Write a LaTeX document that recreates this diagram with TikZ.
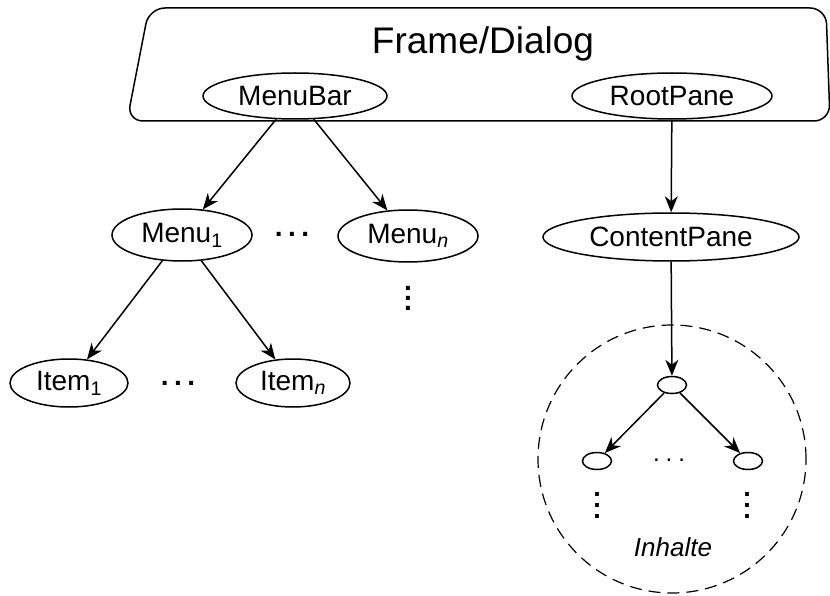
\documentclass[tikz,border=0pt]{standalone}
\usepackage{fontspec}
\setmainfont{Liberation Sans}
\usetikzlibrary{shapes.geometric,arrows.meta}
\begin{document}
\begin{tikzpicture}[x=1pt,y=-1pt,
  every node/.style={font=\fontsize{28}{30}\selectfont},
  oval/.style={draw, ellipse, line width=1.5pt, inner sep=0pt},
  tiny/.style={draw, ellipse, line width=1.5pt, inner sep=0pt, minimum width=29pt, minimum height=17pt},
  link/.style={line width=1.5pt, -{Stealth[length=16pt,width=13pt,inset=5pt]}},
  hdots/.style={inner sep=0pt, font=\fontsize{28}{30}\selectfont\bfseries},
  vdots/.style={inner sep=0pt, align=center, font=\fontsize{28}{10}\selectfont\bfseries},
  ]
\useasboundingbox (0,0) rectangle (830,596);
% window frame
\draw[line width=1.5pt, rounded corners=16pt] (149,8) -- (826,8) -- (830,121) -- (127,121) -- cycle;
\node (title) at (483,44) {\fontsize{37}{40}\selectfont Frame/Dialog};
\node[oval, minimum width=184pt, minimum height=46pt] (mb) at (295,96) {MenuBar};
\node[oval, minimum width=200pt, minimum height=46pt] (rp) at (672,96) {RootPane};
% menu tree
\node[oval, minimum width=140pt, minimum height=52pt] (m1) at (182,235) {Menu\textsubscript{1}};
\node[oval, minimum width=140pt, minimum height=52pt] (mn) at (408,236) {Menu\textsubscript{\itshape n}};
\node[hdots] (hd1) at (292,234) {.\kern5.5pt.\kern5.5pt.};
\node[vdots] (vd1) at (408,298) {.\\.\\.};
\node[oval, minimum width=118pt, minimum height=48pt] (i1) at (69,383) {Item\textsubscript{1}};
\node[oval, minimum width=114pt, minimum height=48pt] (in) at (293,383) {Item\textsubscript{\itshape n}};
\node[hdots] (hd2) at (178,383) {.\kern5.5pt.\kern5.5pt.};
% content pane tree
\node[oval, minimum width=256pt, minimum height=48pt] (cp) at (671,237) {ContentPane};
\node[draw, circle, line width=1.2pt, dash pattern=on 12pt off 7pt, minimum size=268pt, inner sep=0pt] (area) at (672,459) {};
\node[tiny] (t0) at (672,385) {};
\node[tiny] (t1) at (597,461) {};
\node[tiny] (t2) at (748,461) {};
\node[hdots, font=\fontsize{24}{30}\selectfont] (hd3) at (669,460) {.\kern6pt.\kern6pt.};
\node[vdots, font=\fontsize{27}{11}\selectfont\bfseries] (vl) at (597,505) {.\\.\\.};
\node[vdots, font=\fontsize{27}{11}\selectfont\bfseries] (vr) at (747,505) {.\\.\\.};
\node[font=\fontsize{26}{28}\selectfont\itshape] (lbl) at (673,547) {Inhalte};
% connectors
\draw[link] (mb) -- (m1);
\draw[link] (mb) -- (mn);
\draw[link] (m1) -- (i1);
\draw[link] (m1) -- (in);
\draw[link] (rp) -- (cp);
\draw[link] (cp) -- (t0);
\draw[link] (t0) -- (t1);
\draw[link] (t0) -- (t2);
\end{tikzpicture}
\end{document}
